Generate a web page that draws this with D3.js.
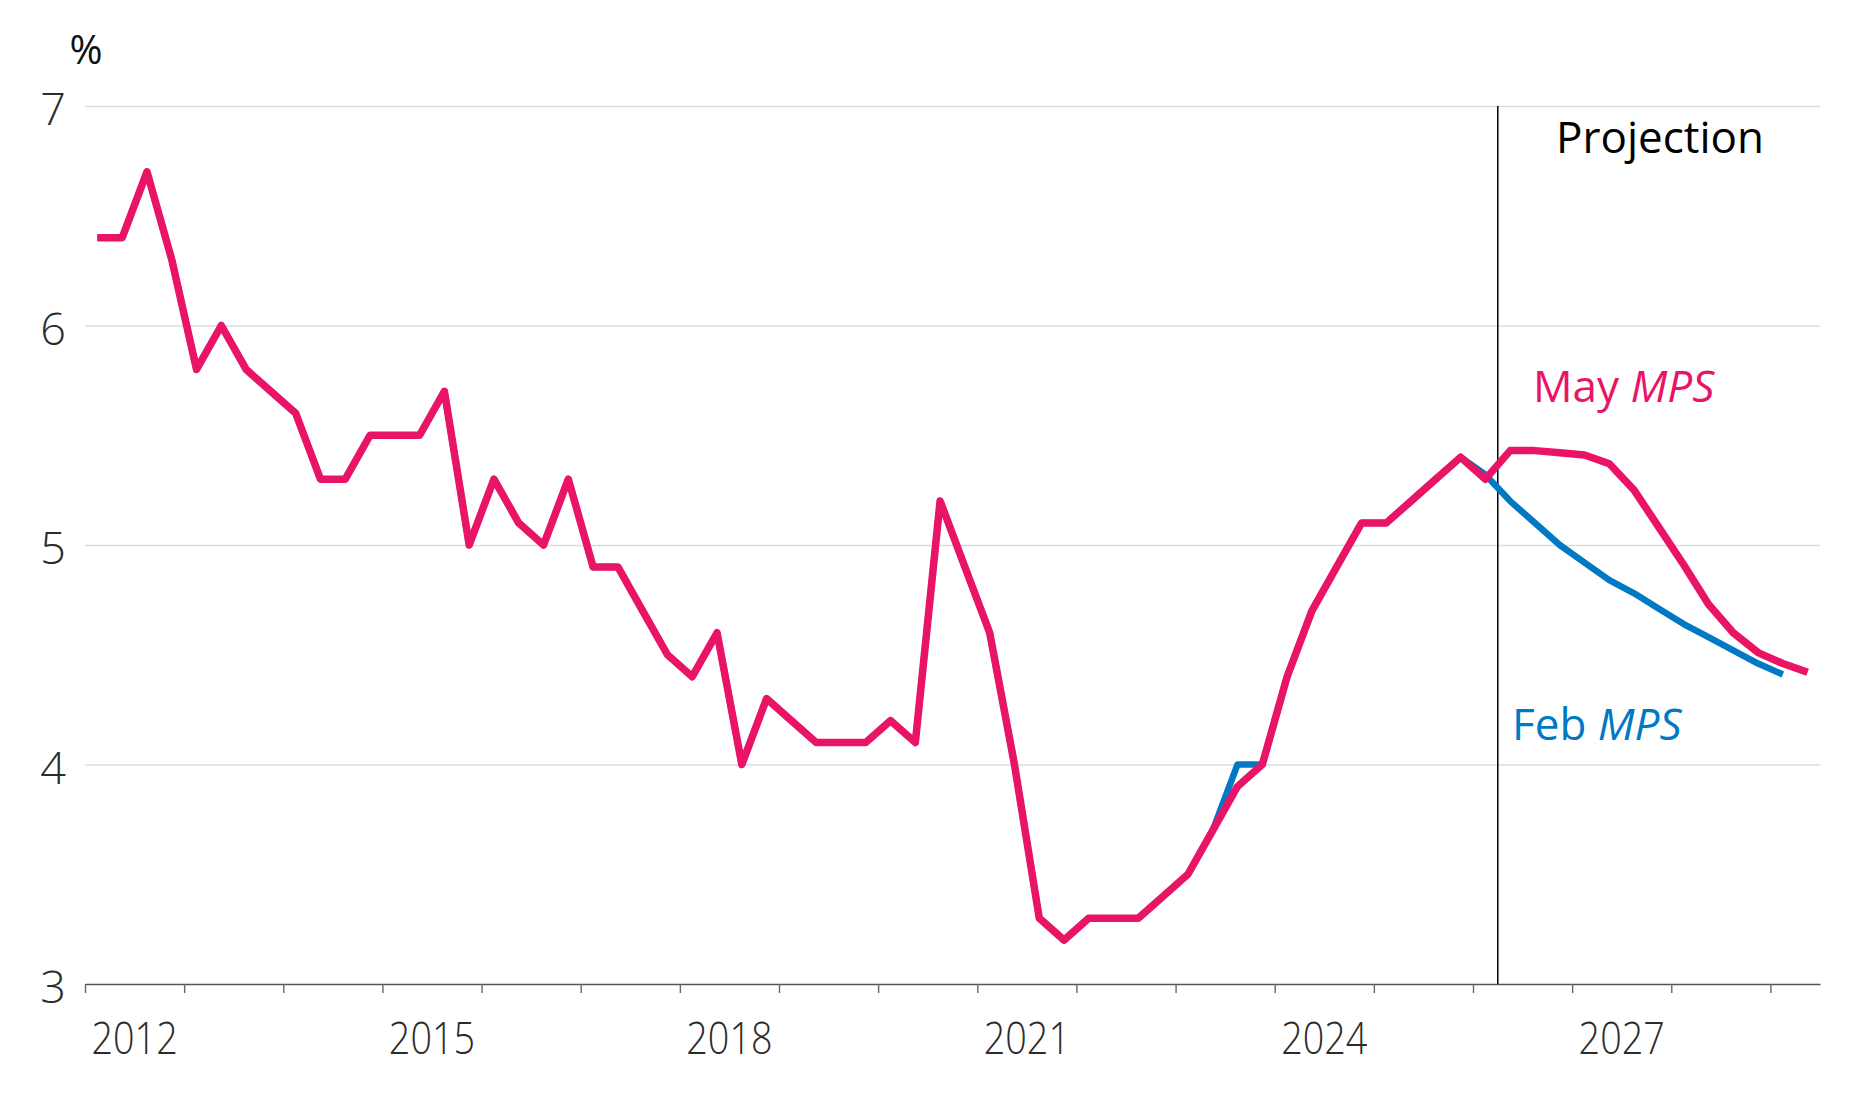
<!DOCTYPE html>
<html>
<head>
<meta charset="utf-8">
<script src="https://cdn.jsdelivr.net/npm/d3@7"></script>
<style>
  html, body { margin: 0; padding: 0; background: #fff; }
  svg { display: block; font-family: 'Open Sans', 'Noto Sans', sans-serif; }
</style>
</head>
<body>
<div class="chart"></div>
<script>
// quarterly data, first point is 2012 Q1
var startYear = 2012
var yearLabels = [2012, 2015, 2018, 2021, 2024, 2027]
var yTicks = [3, 4, 5, 6, 7]
var projectionStart = 2026.25

var mayMPS = [
  6.4, 6.4, 6.7, 6.3, 5.8, 6.0, 5.8, 5.7, 5.6, 5.3,
  5.3, 5.5, 5.5, 5.5, 5.7, 5.0, 5.3, 5.1, 5.0, 5.3,
  4.9, 4.9, 4.7, 4.5, 4.4, 4.6, 4.0, 4.3, 4.2, 4.1,
  4.1, 4.1, 4.2, 4.1, 5.2, 4.9, 4.6, 4.0, 3.3, 3.2,
  3.3, 3.3, 3.3, 3.4, 3.5, 3.7, 3.9, 4.0, 4.4, 4.7,
  4.9, 5.1, 5.1, 5.2, 5.3, 5.4, 5.3, 5.43, 5.43, 5.42,
  5.41, 5.37, 5.25, 5.08, 4.91, 4.73, 4.6, 4.51, 4.46, 4.42
]
var febMPS = [
  6.4, 6.4, 6.7, 6.3, 5.8, 6.0, 5.8, 5.7, 5.6, 5.3,
  5.3, 5.5, 5.5, 5.5, 5.7, 5.0, 5.3, 5.1, 5.0, 5.3,
  4.9, 4.9, 4.7, 4.5, 4.4, 4.6, 4.0, 4.3, 4.2, 4.1,
  4.1, 4.1, 4.2, 4.1, 5.2, 4.9, 4.6, 4.0, 3.3, 3.2,
  3.3, 3.3, 3.3, 3.4, 3.5, 3.7, 4.0, 4.0, 4.4, 4.7,
  4.9, 5.1, 5.1, 5.2, 5.3, 5.4, 5.32, 5.2, 5.1, 5.0,
  4.92, 4.84, 4.78, 4.71, 4.64, 4.58, 4.52, 4.46, 4.41
]

var W = 1870
var H = 1094
var margin = {top: 106, right: 50, bottom: 110, left: 85}
var width = W - margin.left - margin.right
var height = H - margin.top - margin.bottom

var pink = '#ea1467'
var blue = '#0079c4'

var x = d3.scaleLinear().domain([startYear, 2029.5]).range([0, width])
var y = d3.scaleLinear().domain([3, 7]).range([height, 0])

// quarter i sits in the middle of its quarter
function toPoints(arr) {
  return arr.map(function(v, i) {
    return {date: startYear + (i + 0.5) / 4, value: v}
  })
}

var line = d3.line()
  .x(function(d) { return x(d.date) })
  .y(function(d) { return y(d.value) })

var svg = d3.select('.chart')
  .append('svg')
  .attr('width', W)
  .attr('height', H)
  .append('g')
  .attr('transform', 'translate(' + margin.left + ',' + margin.top + ')')

// gridlines
var grid = svg.append('g')
  .call(d3.axisLeft(y).tickValues([4, 5, 6, 7]).tickSize(-width).tickFormat(''))
grid.select('.domain').remove()
grid.selectAll('line').attr('stroke', '#dcdcdc').attr('stroke-width', 1.6)

// y labels
var yAxis = svg.append('g')
  .call(d3.axisLeft(y).tickValues(yTicks).tickSize(0).tickPadding(19).tickFormat(d3.format('d')))
  .attr('font-family', null)
  .attr('font-size', null)
yAxis.select('.domain').remove()
yAxis.selectAll('text')
  .attr('dy', '0.42em')
  .style('font-size', '45px')
  .style('font-weight', 300)
  .style('fill', '#2b2b2b')

// x axis with yearly ticks
var xAxis = svg.append('g')
  .attr('transform', 'translate(0,' + height + ')')
  .call(d3.axisBottom(x)
    .tickValues(d3.range(startYear, 2030))
    .tickSize(9)
    .tickSizeOuter(0)
    .tickFormat(''))
xAxis.select('.domain').attr('stroke', '#555').attr('stroke-width', 1.6)
xAxis.selectAll('.tick line').attr('stroke', '#666').attr('stroke-width', 1.4)

svg.append('g')
  .selectAll('text')
  .data(yearLabels)
  .enter()
  .append('text')
  .attr('transform', function(d) {
    return 'translate(' + x(d + 0.5) + ',' + (height + 70) + ') scale(0.84,1)'
  })
  .attr('text-anchor', 'middle')
  .style('font-size', '45px')
  .style('font-weight', 300)
  .style('fill', '#2b2b2b')
  .text(function(d) { return d })

// unit
svg.append('text')
  .attr('x', 1)
  .attr('y', -42)
  .attr('text-anchor', 'middle')
  .style('font-size', '40px')
  .style('fill', '#111')
  .text('%')

// projection marker
svg.append('line')
  .attr('x1', x(projectionStart))
  .attr('x2', x(projectionStart))
  .attr('y1', y(7))
  .attr('y2', y(3))
  .attr('stroke', '#000')
  .attr('stroke-width', 1.5)

svg.append('text')
  .attr('x', 1556 - margin.left)
  .attr('y', 153 - margin.top)
  .style('font-size', '44px')
  .style('fill', '#000')
  .text('Projection')

// lines, Feb under May
svg.append('path')
  .datum(toPoints(febMPS))
  .attr('d', line)
  .attr('fill', 'none')
  .attr('stroke', blue)
  .attr('stroke-width', 6.5)
  .attr('stroke-linejoin', 'round')

svg.append('path')
  .datum(toPoints(mayMPS))
  .attr('d', line)
  .attr('fill', 'none')
  .attr('stroke', pink)
  .attr('stroke-width', 7.5)
  .attr('stroke-linejoin', 'round')

// series labels
var mayLabel = svg.append('text')
  .attr('x', 1533 - margin.left)
  .attr('y', 402 - margin.top)
  .style('font-size', '44px')
  .style('fill', pink)
mayLabel.append('tspan').text('May ')
mayLabel.append('tspan').style('font-style', 'italic').text('MPS')

var febLabel = svg.append('text')
  .attr('x', 1512 - margin.left)
  .attr('y', 740 - margin.top)
  .style('font-size', '44px')
  .style('fill', blue)
febLabel.append('tspan').text('Feb ')
febLabel.append('tspan').style('font-style', 'italic').text('MPS')
</script>
</body>
</html>
